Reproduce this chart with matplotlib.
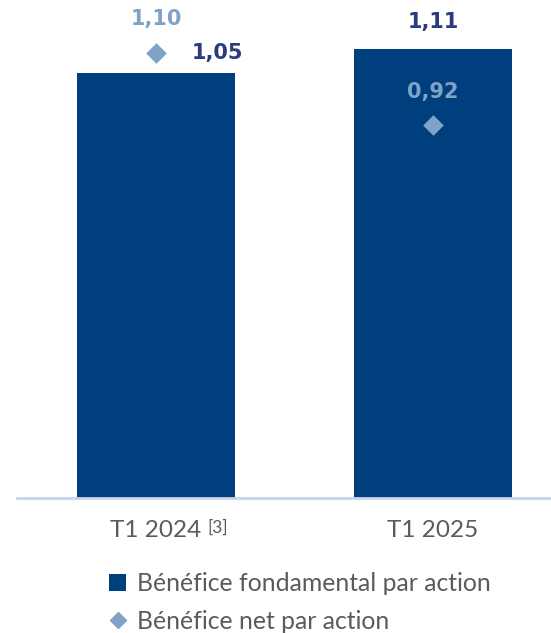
import matplotlib.pyplot as plt
from matplotlib.lines import Line2D
from matplotlib.patches import Patch

plt.rcParams['font.family'] = ['Lato', 'DejaVu Sans']

# données
periodes = ['T1 2024', 'T1 2025']
bpa_fondamental = [1.05, 1.11]
bpa_net = [1.10, 0.92]
lbl_fondamental = ['1,05', '1,11']
lbl_net = ['1,10', '0,92']

c_bar = '#003f7e'
c_dark = '#2c3b80'
c_light = '#80a2c6'
c_tick = '#5b5b5b'

W, H = 551, 633
fig = plt.figure(figsize=(W / 100, H / 100), dpi=100)
ax = fig.add_axes([17 / W, 135 / H, 534 / W, 494 / H])

x = list(range(len(periodes)))
ax.bar(x, bpa_fondamental, width=0.57, color=c_bar, zorder=2)
ax.scatter(x, bpa_net, marker='D', s=110, color=c_light, zorder=3, linewidths=0)

ax.set_xlim(-0.502, 1.426)
ax.set_ylim(0, 1.22)

# étiquettes (chiffres en gras large)
num = dict(fontsize=15, fontweight='bold', family='DejaVu Sans', ha='center', va='center',
           textcoords='offset pixels')
ax.annotate(lbl_net[0], (x[0], bpa_net[0]), xytext=(0, 34), color=c_light, **num)
ax.annotate(lbl_fondamental[0], (x[0], bpa_net[0]), xytext=(61, 0), color=c_dark, **num)
ax.annotate(lbl_fondamental[1], (x[1], bpa_fondamental[1]), xytext=(0, 27), color=c_dark, **num)
ax.annotate(lbl_net[1], (x[1], bpa_net[1]), xytext=(0, 33), color=c_light, **num)

for s in ['top', 'right', 'left']:
    ax.spines[s].set_visible(False)
ax.spines['bottom'].set_color('#c9d3ec')
ax.spines['bottom'].set_linewidth(2)
ax.set_yticks([])
ax.set_xticks(x)
ax.set_xticklabels(periodes, fontsize=17.5, color=c_tick)
ax.tick_params(axis='x', length=0, pad=16)

# renvoi de note sur T1 2024
ax.annotate('[3]', xy=(1, 1), xycoords=ax.get_xticklabels()[0], xytext=(6, 1),
            textcoords='offset pixels', ha='left', va='top', fontsize=12.5, color=c_tick)

handles = [Patch(facecolor=c_bar, edgecolor='none'),
           Line2D([], [], marker='D', color=c_light, linestyle='none', markersize=8)]
fig.legend(handles, ['Bénéfice fondamental par action', 'Bénéfice net par action'],
           loc='upper left', bbox_to_anchor=(99 / W, 1 - 562 / H), frameon=False,
           fontsize=17.8, labelcolor=c_tick, handlelength=0.7, handleheight=0.7,
           handletextpad=0.45, labelspacing=0.6, borderaxespad=0)

fig.savefig('out.png', dpi=100)
